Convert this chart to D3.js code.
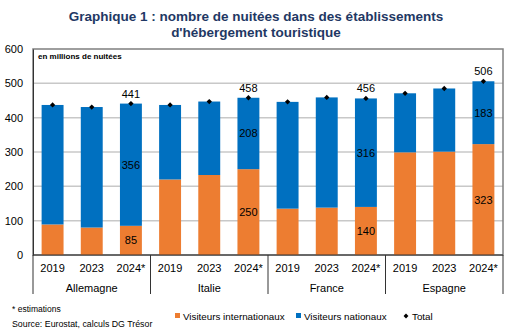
<!DOCTYPE html>
<html>
<head>
<meta charset="utf-8">
<script src="https://cdn.jsdelivr.net/npm/d3@7"></script>
<style>
  body { margin: 0; background: #fff; }
  svg { font-family: Arial, "Liberation Sans", sans-serif; }
</style>
</head>
<body>
<div id="chart"></div>
<script>
const countries = ["Allemagne", "Italie", "France", "Espagne"];
const years = ["2019", "2023", "2024*"];
const international = [89, 80, 85, 220, 233, 250, 135, 138, 140, 299, 301, 323];
const national = [348, 351, 356, 217, 214, 208, 311, 321, 316, 172, 184, 183];
const total = [437, 431, 441, 437, 447, 458, 446, 459, 456, 471, 485, 506];
const yTicks = [0, 100, 200, 300, 400, 500, 600];

const width = 512, height = 333;
const margin = { left: 33, right: 9, top: 49, bottom: 78 };

const bars = [];
countries.forEach((c, i) => years.forEach((y, j) => {
  const k = i * 3 + j;
  bars.push({ key: c + " " + y, country: c, year: y, intl: international[k], nat: national[k], total: total[k], labelled: j === 2 });
}));

const svg = d3.select("#chart").append("svg")
  .attr("width", width)
  .attr("height", height);

const x = d3.scaleBand()
  .domain(bars.map(d => d.key))
  .range([margin.left, width - margin.right])
  .paddingInner(0.44)
  .paddingOuter(0.22);

const y = d3.scaleLinear()
  .domain([0, 600])
  .range([height - margin.bottom, margin.top]);

// title
svg.append("text")
  .attr("x", 256).attr("y", 21)
  .attr("text-anchor", "middle")
  .attr("font-size", 13.5).attr("font-weight", "bold").attr("fill", "#1F3864")
  .text("Graphique 1 : nombre de nuitées dans des établissements");
svg.append("text")
  .attr("x", 256).attr("y", 37)
  .attr("text-anchor", "middle")
  .attr("font-size", 13.5).attr("font-weight", "bold").attr("fill", "#1F3864")
  .text("d'hébergement touristique");

// grid
svg.append("g")
  .selectAll("line")
  .data(yTicks.filter(t => t > 0 && t < 600))
  .enter().append("line")
  .attr("x1", margin.left).attr("x2", width - margin.right)
  .attr("y1", d => y(d)).attr("y2", d => y(d))
  .attr("stroke", "#c8c8c8").attr("stroke-width", 1.5);

// frame
svg.append("rect")
  .attr("x", margin.left).attr("y", y(600))
  .attr("width", width - margin.right - margin.left)
  .attr("height", y(0) - y(600))
  .attr("fill", "none").attr("stroke", "#7f7f7f").attr("stroke-width", 1.5);

svg.append("text")
  .attr("x", margin.left + 5).attr("y", y(600) + 10)
  .attr("font-size", 8).attr("font-weight", "bold")
  .text("en millions de nuitées");

// y axis
const yAxis = svg.append("g")
  .attr("transform", `translate(${margin.left},0)`)
  .call(d3.axisLeft(y).tickValues(yTicks).tickSize(0).tickPadding(10));
yAxis.select(".domain").attr("stroke", "#333");
yAxis.selectAll("text").attr("font-size", 11).attr("fill", "#000").attr("font-family", "Arial, 'Liberation Sans', sans-serif");

// bars
const g = svg.append("g");
g.selectAll("rect.intl")
  .data(bars)
  .enter().append("rect")
  .attr("class", "intl")
  .attr("x", d => x(d.key))
  .attr("width", x.bandwidth())
  .attr("y", d => y(d.intl))
  .attr("height", d => y(0) - y(d.intl))
  .attr("fill", "#ED7D31");

g.selectAll("rect.nat")
  .data(bars)
  .enter().append("rect")
  .attr("class", "nat")
  .attr("x", d => x(d.key))
  .attr("width", x.bandwidth())
  .attr("y", d => y(d.intl + d.nat))
  .attr("height", d => y(d.intl) - y(d.intl + d.nat))
  .attr("fill", "#0070C0");

// total markers (rotated squares)
const diamond = d3.symbol(d3.symbolSquare, 14);
g.selectAll("path.total")
  .data(bars)
  .enter().append("path")
  .attr("class", "total")
  .attr("transform", d => `translate(${x(d.key) + x.bandwidth() / 2},${y(d.total)}) rotate(45)`)
  .attr("d", diamond)
  .attr("fill", "#000");

// labels
const lab = bars.filter(d => d.labelled);
const labelG = svg.append("g").attr("font-size", 11).attr("text-anchor", "middle").attr("fill", "#000");
lab.forEach(d => {
  const cx = x(d.key) + x.bandwidth() / 2;
  labelG.append("text").attr("x", cx).attr("y", y(d.total) - 6).text(d.total);
  labelG.append("text").attr("x", cx).attr("y", y(d.intl + d.nat / 2) + 4).text(d.nat);
  labelG.append("text").attr("x", cx).attr("y", y(d.intl / 2) + 4).text(d.intl);
});

// x axis labels
const axisY = y(0);
svg.append("line")
  .attr("x1", margin.left).attr("x2", width - margin.right)
  .attr("y1", axisY).attr("y2", axisY)
  .attr("stroke", "#333").attr("stroke-width", 1);

svg.append("g")
  .selectAll("text")
  .data(bars)
  .enter().append("text")
  .attr("x", d => x(d.key) + x.bandwidth() / 2)
  .attr("y", axisY + 17)
  .attr("text-anchor", "middle")
  .attr("font-size", 11)
  .text(d => d.year);

const groupW = (width - margin.right - margin.left) / countries.length;
countries.forEach((c, i) => {
  svg.append("text")
    .attr("x", margin.left + groupW * (i + 0.5))
    .attr("y", axisY + 37)
    .attr("text-anchor", "middle")
    .attr("font-size", 11)
    .text(c);
});
d3.range(countries.length + 1).forEach(i => {
  const gx = margin.left + groupW * i;
  svg.append("line")
    .attr("x1", gx).attr("x2", gx)
    .attr("y1", axisY).attr("y2", axisY + 39)
    .attr("stroke", "#333").attr("stroke-width", 1);
});

// footnotes
svg.append("text").attr("x", 12).attr("y", 312).attr("font-size", 8.5).text("* estimations");
svg.append("text").attr("x", 12).attr("y", 327).attr("font-size", 8.8).text("Source: Eurostat, calculs DG Trésor");

// legend
const legend = svg.append("g").attr("font-size", 9.8);
legend.append("rect").attr("x", 175).attr("y", 313).attr("width", 5).attr("height", 5).attr("fill", "#ED7D31");
legend.append("text").attr("x", 183).attr("y", 320).text("Visiteurs internationaux");
legend.append("rect").attr("x", 296).attr("y", 313).attr("width", 5).attr("height", 5).attr("fill", "#0070C0");
legend.append("text").attr("x", 304).attr("y", 320).text("Visiteurs nationaux");
legend.append("path").attr("transform", "translate(406,316) rotate(45)").attr("d", d3.symbol(d3.symbolSquare, 12)).attr("fill", "#000");
legend.append("text").attr("x", 412).attr("y", 320).text("Total");
</script>
</body>
</html>
